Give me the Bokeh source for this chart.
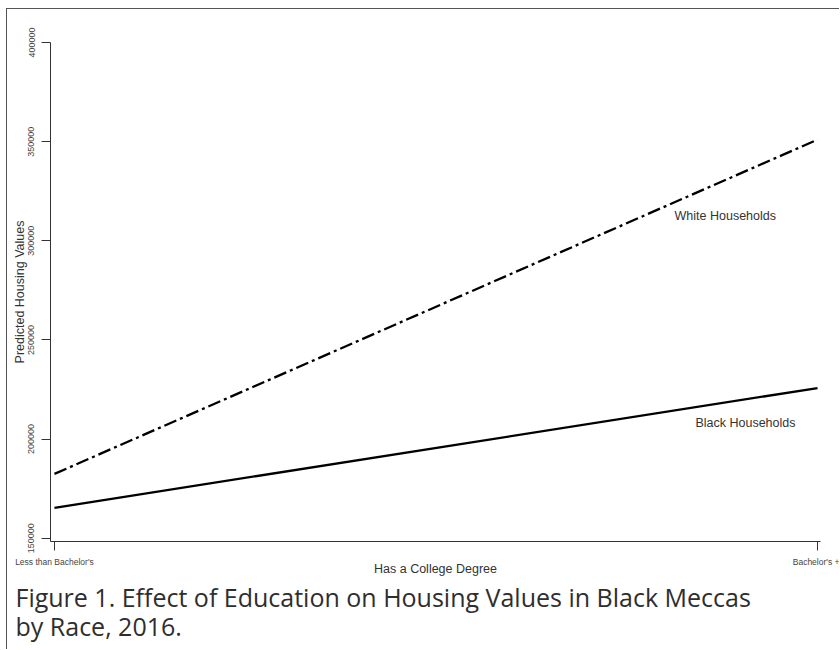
from bokeh.plotting import figure
from bokeh.models import Range1d, FixedTicker, Label, Title
from bokeh.embed import file_html
from bokeh.resources import INLINE

# Predicted housing values by college degree, for white and black households
education = ["Less than Bachelor's", "Bachelor's +"]
degree = [0, 1]
white_values = [182400, 351000]
black_values = [165300, 225700]

y_ticks = [150000, 200000, 250000, 300000, 350000, 400000]
y_tick_labels = ["150000", "200000", "250000", "300000", "350000", "400000"]

series_names = ["White Households", "Black Households"]
series_label_x = [0.8126, 0.840]
series_label_y = [312300, 208300]

caption_lines = [
    "Figure 1. Effect of Education on Housing Values in Black Meccas",
    "by Race, 2016.",
]

AXIS_FONT = "Liberation Sans"
TEXT = "#333333"
FRAME = "1px solid #555555"

p = figure(
    width=833, height=641,
    x_range=Range1d(-0.0052, 1.0039),
    y_range=Range1d(148300, 400000),
    output_backend="svg", toolbar_location=None,
    min_border_left=43, min_border_right=20,
    min_border_top=33, min_border_bottom=109,
    margin=(8, 0, 0, 6),
    styles={"border-left": FRAME, "border-top": FRAME},
)
p.outline_line_color = None
p.xgrid.grid_line_color = None
p.ygrid.grid_line_color = None
p.background_fill_color = "white"
p.border_fill_color = "white"

# Lines for each group
p.line(degree, white_values, line_color="black", line_width=2.3, line_dash="13 4 3 4")
p.line(degree, black_values, line_color="black", line_width=2.3)

# Axes
for ax in (p.xaxis[0], p.yaxis[0]):
    ax.axis_line_color = TEXT
    ax.axis_line_width = 1
    ax.major_tick_line_color = TEXT
    ax.major_tick_in = 0
    ax.major_tick_out = 9
    ax.minor_tick_line_color = None
    ax.major_label_text_font = AXIS_FONT
    ax.major_label_text_color = "#444444"
    ax.axis_label_text_font = AXIS_FONT
    ax.axis_label_text_font_style = "normal"
    ax.axis_label_text_color = TEXT
    ax.axis_label_text_font_size = "12.5px"

p.xaxis.ticker = FixedTicker(ticks=degree)
p.xaxis.major_label_overrides = {d: name for d, name in zip(degree, education)}
p.xaxis.major_label_text_font_size = "8.5px"
p.xaxis.major_label_standoff = 6
p.xaxis.axis_label = "Has a College Degree"
p.xaxis.axis_label_standoff = -8

p.yaxis.ticker = FixedTicker(ticks=y_ticks)
p.yaxis.major_label_overrides = {t: s for t, s in zip(y_ticks, y_tick_labels)}
p.yaxis.major_label_text_font_size = "9px"
p.yaxis.major_label_orientation = "vertical"
p.yaxis.major_label_standoff = 7
p.yaxis.axis_label = "Predicted Housing Values"
p.yaxis.axis_label_standoff = -1

# Series labels
for name, lx, ly in zip(series_names, series_label_x, series_label_y):
    p.add_layout(Label(x=lx, y=ly, text=name, text_font=AXIS_FONT,
                       text_font_size="12.5px", text_color=TEXT,
                       text_baseline="middle", text_align="left"))

# Two-line caption below the chart
p.add_layout(Title(text="\n".join(caption_lines), align="left", offset=-35, standoff=0,
                   text_font="Open Sans", text_font_size="25px",
                   text_line_height=0.86,
                   text_font_style="normal", text_color="#2e2e2e"), "below")

open("out.html", "w").write(file_html(p, INLINE))
